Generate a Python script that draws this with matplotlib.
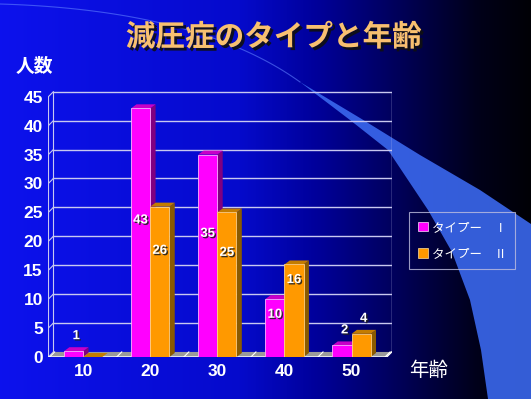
import numpy as np
import matplotlib
matplotlib.use("Agg")
import matplotlib.pyplot as plt
import matplotlib.patheffects as pe
from matplotlib.patches import Polygon, Patch

# data
ages = ["10", "20", "30", "40", "50"]
type1 = [1, 43, 35, 10, 2]
type2 = [0, 26, 25, 16, 4]
series_names = ["タイプー　Ⅰ", "タイプー　Ⅱ"]
yticks = list(range(0, 50, 5))

title = "減圧症のタイプと年齢"
ylabel = "人数"
xlabel = "年齢"

W, H = 531, 399
fig = plt.figure(figsize=(W / 100, H / 100), dpi=100)

# --- background: blue -> black gradient with a light swoosh
bg = fig.add_axes([0, 0, 1, 1], zorder=-10)
bg.set_xlim(0, W)
bg.set_ylim(H, 0)
bg.axis("off")
stops = [0.0, 0.45, 0.6, 0.78, 0.9, 1.0]
cols = np.array([
    [0.05, 0.07, 0.93],
    [0.02, 0.04, 0.80],
    [0.00, 0.00, 0.60],
    [0.00, 0.00, 0.30],
    [0.00, 0.00, 0.10],
    [0.00, 0.00, 0.02],
])
t = np.linspace(0, 1, 400)
grad = np.stack([np.interp(t, stops, cols[:, k]) for k in range(3)], axis=-1)[None, :, :]
bg.imshow(grad, extent=(0, W, H, 0), aspect="auto", zorder=0)

upper = [(300, 82), (360, 118), (420, 155), (480, 190), (531, 224)]
lower = [(531, 399), (488, 399), (481, 350), (470, 300), (452, 252),
         (428, 210), (408, 180), (388, 150), (350, 120)]
bg.add_patch(Polygon(upper + lower, closed=True, fc="#3a68ee", ec="none", alpha=0.9, zorder=1))
arc_t = np.linspace(0, 1, 50)
arc_x = 2 * (1 - arc_t) * arc_t * 200 + arc_t ** 2 * 300
arc_y = (1 - arc_t) ** 2 * 4 + 2 * (1 - arc_t) * arc_t * 10 + arc_t ** 2 * 82
bg.plot(arc_x, arc_y, color="#6080ff", lw=0.8, alpha=0.6, zorder=1)

# --- chart area (fake 3D column chart)
x0, x1 = -0.519, 4.599
ax = fig.add_axes([0.091, 0.1053, 0.6467, 0.6667])
ax.set_facecolor("none")
ax.set_xlim(x0, x1)
ax.set_ylim(0, 46)
for s in ax.spines.values():
    s.set_visible(False)

dxb, dyb = 0.075, 0.87      # back wall offset
dx, dy = 0.08, 0.69         # bar depth
w = 0.285
gc = "#c8c8f0"

for v in yticks[1:]:
    ax.plot([x0 + dxb, x1], [v + dyb] * 2, color=gc, lw=1, zorder=1)
ax.plot([x0, x0], [0, 45], color=gc, lw=0.8, zorder=1)
ax.plot([x0 + dxb] * 2, [dyb, 45 + dyb], color=gc, lw=0.8, zorder=1)
ax.plot([x1, x1], [dyb, 45 + dyb], color=gc, lw=1, zorder=1)
for v in yticks:
    ax.plot([x0 - 0.03, x0, x0 + dxb], [v, v, v + dyb], color=gc, lw=0.8, zorder=1)

floor = [(x0, 0), (x1 - dxb, 0), (x1, dyb), (x0 + dxb, dyb)]
ax.add_patch(Polygon(floor, closed=True, fc="#9a9a9a", ec="none", zorder=2))
ax.plot([x0, x1 - dxb, x1], [0, 0, dyb], color="white", lw=1, zorder=2)
for b in np.arange(len(ages) + 1) - 0.5:
    ax.plot([b, b + dxb], [0, dyb], color="white", lw=0.8, zorder=2)


def bar3d(left, v, front, top, side, edge, z):
    r = left + w
    ax.add_patch(Polygon([(r, 0), (r + dx, dy), (r + dx, v + dy), (r, v)],
                         closed=True, fc=side, ec="none", zorder=z))
    ax.add_patch(Polygon([(left, v), (left + dx, v + dy), (r + dx, v + dy), (r, v)],
                         closed=True, fc=top, ec="none", zorder=z))
    if v > 0:
        ax.add_patch(Polygon([(left, 0), (r, 0), (r, v), (left, v)],
                             closed=True, fc=front, ec=edge, lw=0.6, zorder=z))


shadow = [pe.withSimplePatchShadow(offset=(1, -1), shadow_rgbFace="#202020", alpha=0.9)]


def value_label(cx, v):
    if v < 5:
        ly = v + 2.6
        cx = cx + dx / 2
    else:
        ly = min(v - 2.7, 3.6 * np.sqrt(v))
    ax.text(cx, ly, str(v), ha="center", va="center", color="white",
            fontsize=9.5, fontweight="bold", family="Liberation Sans",
            path_effects=shadow, zorder=20)


for i, (a, b) in enumerate(zip(type1, type2)):
    bar3d(i - w, a, "#ff00ff", "#c800c8", "#800080", "#ffb0ff", 3 + 2 * i)
    bar3d(i, b, "#ff9900", "#c47c00", "#8a5a00", "#ffd080", 4 + 2 * i)
    value_label(i - w / 2, a)
    if b > 0:
        value_label(i + w / 2, b)

ax.set_yticks(yticks)
ax.set_xticks(range(len(ages)), ages)
ax.tick_params(axis="both", length=0, colors="white", labelsize=12.5)
ax.tick_params(axis="y", pad=4)
ax.tick_params(axis="x", pad=5)
for lbl in ax.get_yticklabels() + ax.get_xticklabels():
    lbl.set_fontweight("bold")
    lbl.set_family("Liberation Sans")

# --- texts
cjk = ["Noto Sans CJK JP", "DejaVu Sans"]
fig.text(274 / W, 1 - 37 / H, title, ha="center", va="center", fontsize=21.3,
         color="#f8c070", family=cjk, fontweight="bold",
         path_effects=[pe.withSimplePatchShadow(offset=(2, -2), shadow_rgbFace="#101010", alpha=0.9)])
fig.text(16 / W, 1 - 67 / H, ylabel, ha="left", va="center", fontsize=13.5,
         color="white", family=cjk, fontweight="bold")
fig.text(409 / W, 1 - 370 / H, xlabel, ha="left", va="center", fontsize=14,
         color="white", family=cjk)

handles = [Patch(fc="#ff00ff", ec="#ffe0ff", lw=0.5), Patch(fc="#ff9900", ec="#ffe0a0", lw=0.5)]
leg = fig.legend(handles, series_names, loc="upper left",
                 bbox_to_anchor=(409 / W, 1 - 212 / H), frameon=True, fancybox=False,
                 facecolor="none", edgecolor="#c0c0e0", prop={"family": cjk, "size": 9},
                 labelcolor="white", handlelength=0.8, handleheight=0.8,
                 handletextpad=0.3, borderpad=0.7, labelspacing=1.1, borderaxespad=0)
leg.get_frame().set_linewidth(0.8)

fig.savefig("out.png", dpi=100)
